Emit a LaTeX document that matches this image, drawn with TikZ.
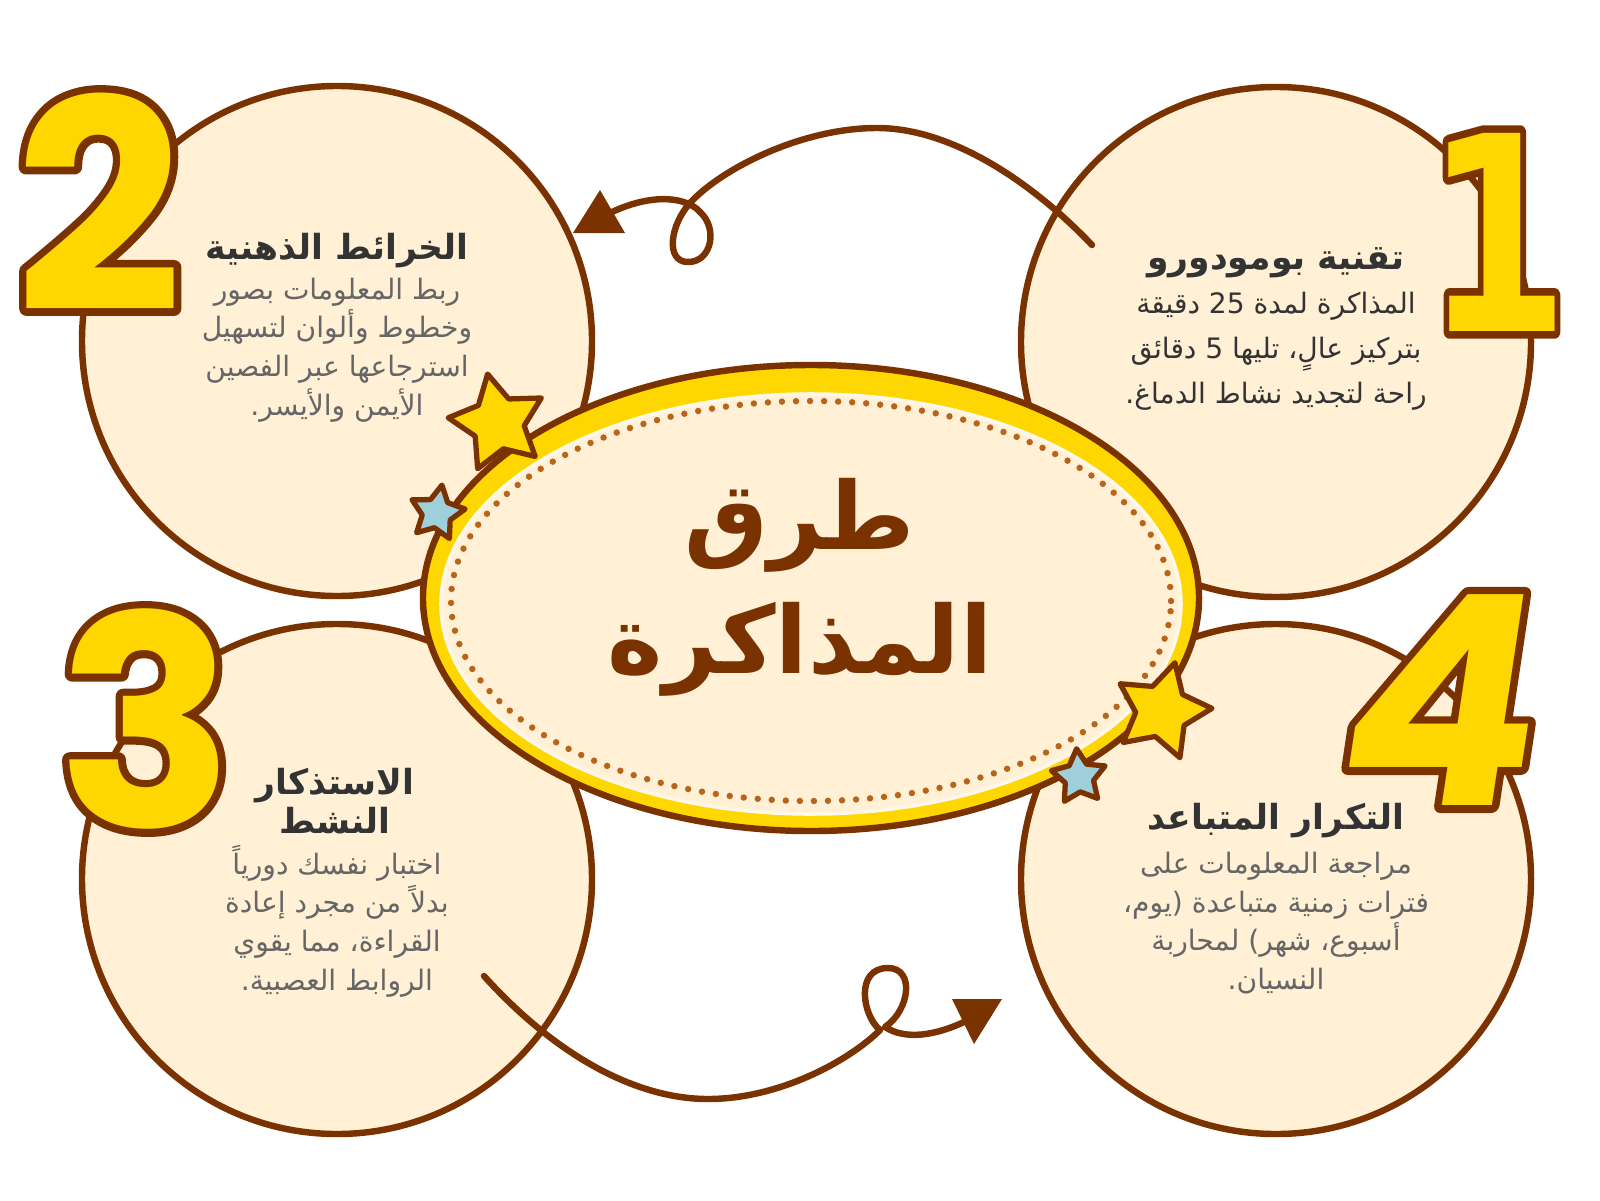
\documentclass[tikz,border=0pt]{standalone}
\usepackage{fontspec}
\usetikzlibrary{shapes.geometric}
\TeXXeTstate=1
\newfontfamily\arabicfont[Script=Arabic]{DejaVu Sans}
\newfontfamily\digitfont{Poppins}
\newfontfamily\unfont{DejaVu Sans}
\definecolor{brun}{HTML}{7A3300}
\definecolor{jaune}{HTML}{FFD700}
\definecolor{creme}{HTML}{FFF0D6}
\definecolor{bleu}{HTML}{9ECFDB}
\definecolor{pointille}{HTML}{B8651B}
\definecolor{encre}{HTML}{333333}
\definecolor{gris}{HTML}{666666}
\newcommand{\ar}[1]{\beginR #1\endR}
% contour du chiffre : rendu en trait seulement
\newcommand{\contourchiffre}[1]{\special{pdf:literal direct 1 Tr 13 w 1 j}#1\special{pdf:literal direct 0 Tr}}

\begin{document}
\begin{tikzpicture}[
    x=0.03cm, y=-0.03cm,
    bulle/.style={circle, draw=brun, fill=creme, line width=5.5pt, minimum size=15.3cm, inner sep=0pt},
    titre/.style={font=\arabicfont\bfseries\fontsize{29.5}{33}\selectfont, text=encre, align=center, inner sep=0pt},
    corps/.style={font=\arabicfont\fontsize{24}{33}\selectfont, text=gris, align=center, inner sep=0pt},
    fleche/.style={draw=brun, line width=5.5pt, line cap=round, line join=round},
    pointe/.style={fill=brun},
    etoile/.style={star, star points=5, star point ratio=1.9, draw=brun, line width=4.5pt, line join=round, inner sep=0pt},
    chiffre/.style={font=\digitfont\bfseries\fontsize{250}{250}\selectfont, inner sep=0pt},
    chiffreun/.style={font=\unfont\bfseries\fontsize{232}{232}\selectfont, inner sep=0pt}
]
    \fill[white] (0,0) rectangle (1600,1200);
    \useasboundingbox (0,0) rectangle (1600,1200);

    % les quatre cercles
    \node[bulle] (c1) at (1276,342) {};
    \node[bulle] (c2) at (337,341) {};
    \node[bulle] (c3) at (337,879) {};
    \node[bulle] (c4) at (1276,879) {};

    % fleches avec boucle
    \coordinate (d1) at (1092,245);
    \coordinate (a1) at (612,212);
    \draw[fleche] (d1) .. controls (1030,180) and (950,128) .. (877,128)
        .. controls (800,128) and (720,170) .. (690,203)
        .. controls (670,225) and (665,262) .. (688,262)
        .. controls (712,262) and (718,228) .. (700,212)
        .. controls (688,198) and (655,192) .. (a1);
    \fill[pointe] (573,233) -- (625,233) -- (600,190) -- cycle;

    \coordinate (d3) at (484,976);
    \coordinate (a3) at (966,1021);
    \draw[fleche] (d3) .. controls (560,1060) and (640,1099) .. (708,1099)
        .. controls (780,1099) and (850,1060) .. (880,1030)
        .. controls (862,1015) and (855,968) .. (888,968)
        .. controls (915,968) and (910,1010) .. (885,1027)
        .. controls (905,1040) and (935,1036) .. (a3);
    \fill[pointe] (952,999) -- (1002,999) -- (974,1044) -- cycle;

    % ellipse centrale
    \node[ellipse, draw=brun, fill=jaune, line width=5.5pt, minimum width=23.28cm, minimum height=13.98cm] (centre) at (811,598) {};
    \node[ellipse, draw=creme!50!white, fill=creme, line width=3pt, minimum width=22.2cm, minimum height=12.6cm] (interieur) at (811,604) {};
    \node[ellipse, draw=pointille, line width=5.5pt, line cap=round, dash pattern=on 0pt off 12pt, minimum width=21.6cm, minimum height=12cm] (perles) at (811,601) {};
    \node[font=\arabicfont\bfseries\fontsize{80}{106}\selectfont, text=brun, align=center, inner sep=0pt] (nom) at (800,587) {\ar{طرق}\\\ar{المذاكرة}};

    % etoiles
    \node[etoile, fill=jaune, minimum size=3cm, rotate=12] (e1) at (498,423) {};
    \node[etoile, fill=bleu, minimum size=1.7cm, rotate=-10] (e2) at (437,513) {};
    \node[etoile, fill=jaune, minimum size=3cm, rotate=-15] (e3) at (1162,711) {};
    \node[etoile, fill=bleu, minimum size=1.7cm, rotate=5] (e4) at (1079,777) {};

    % grands chiffres
    \begin{scope}[shift={(1497,232)}, xscale=0.76, transform shape]
        \node[chiffreun, text=brun] at (0,0) {\contourchiffre{1}};
        \node[chiffreun, text=jaune] (num1) at (0,0) {1};
    \end{scope}
    \foreach \n/\px/\py/\s in {2/99/202/0, 3/146/719/0, 4/1444/700/0.15} {
        \begin{scope}[shift={(\px,\py)}, xslant=\s, transform shape]
            \node[chiffre, text=brun] at (0,0) {\contourchiffre{\n}};
            \node[chiffre, text=jaune] (num\n) at (0,0) {\n};
        \end{scope}
    }

    % textes
    \node[titre] (t1) at (1276,263) {\ar{تقنية بومودورو}};
    \node[corps, text=encre, font=\arabicfont\fontsize{24}{38.4}\selectfont] (p1) at (1276,351)
        {\ar{المذاكرة لمدة \beginL 25\endL{} دقيقة}\\\ar{بتركيز عالٍ، تليها \beginL 5\endL{} دقائق}\\\ar{راحة لتجديد نشاط الدماغ.}};

    \node[titre] (t2) at (337,251) {\ar{الخرائط الذهنية}};
    \node[corps] (p2) at (337,350)
        {\ar{ربط المعلومات بصور}\\\ar{وخطوط وألوان لتسهيل}\\\ar{استرجاعها عبر الفصين}\\\ar{الأيمن والأيسر.}};

    \node[titre] (t3) at (335,801) {\ar{الاستذكار}\\\ar{النشط}};
    \node[corps] (p3) at (337,921)
        {\ar{اختبار نفسك دورياً}\\\ar{بدلاً من مجرد إعادة}\\\ar{القراءة، مما يقوي}\\\ar{الروابط العصبية.}};

    \node[titre] (t4) at (1276,821) {\ar{التكرار المتباعد}};
    \node[corps] (p4) at (1276,923)
        {\ar{مراجعة المعلومات على}\\\ar{فترات زمنية متباعدة (يوم،}\\\ar{أسبوع، شهر) لمحاربة}\\\ar{النسيان.}};
\end{tikzpicture}
\end{document}
